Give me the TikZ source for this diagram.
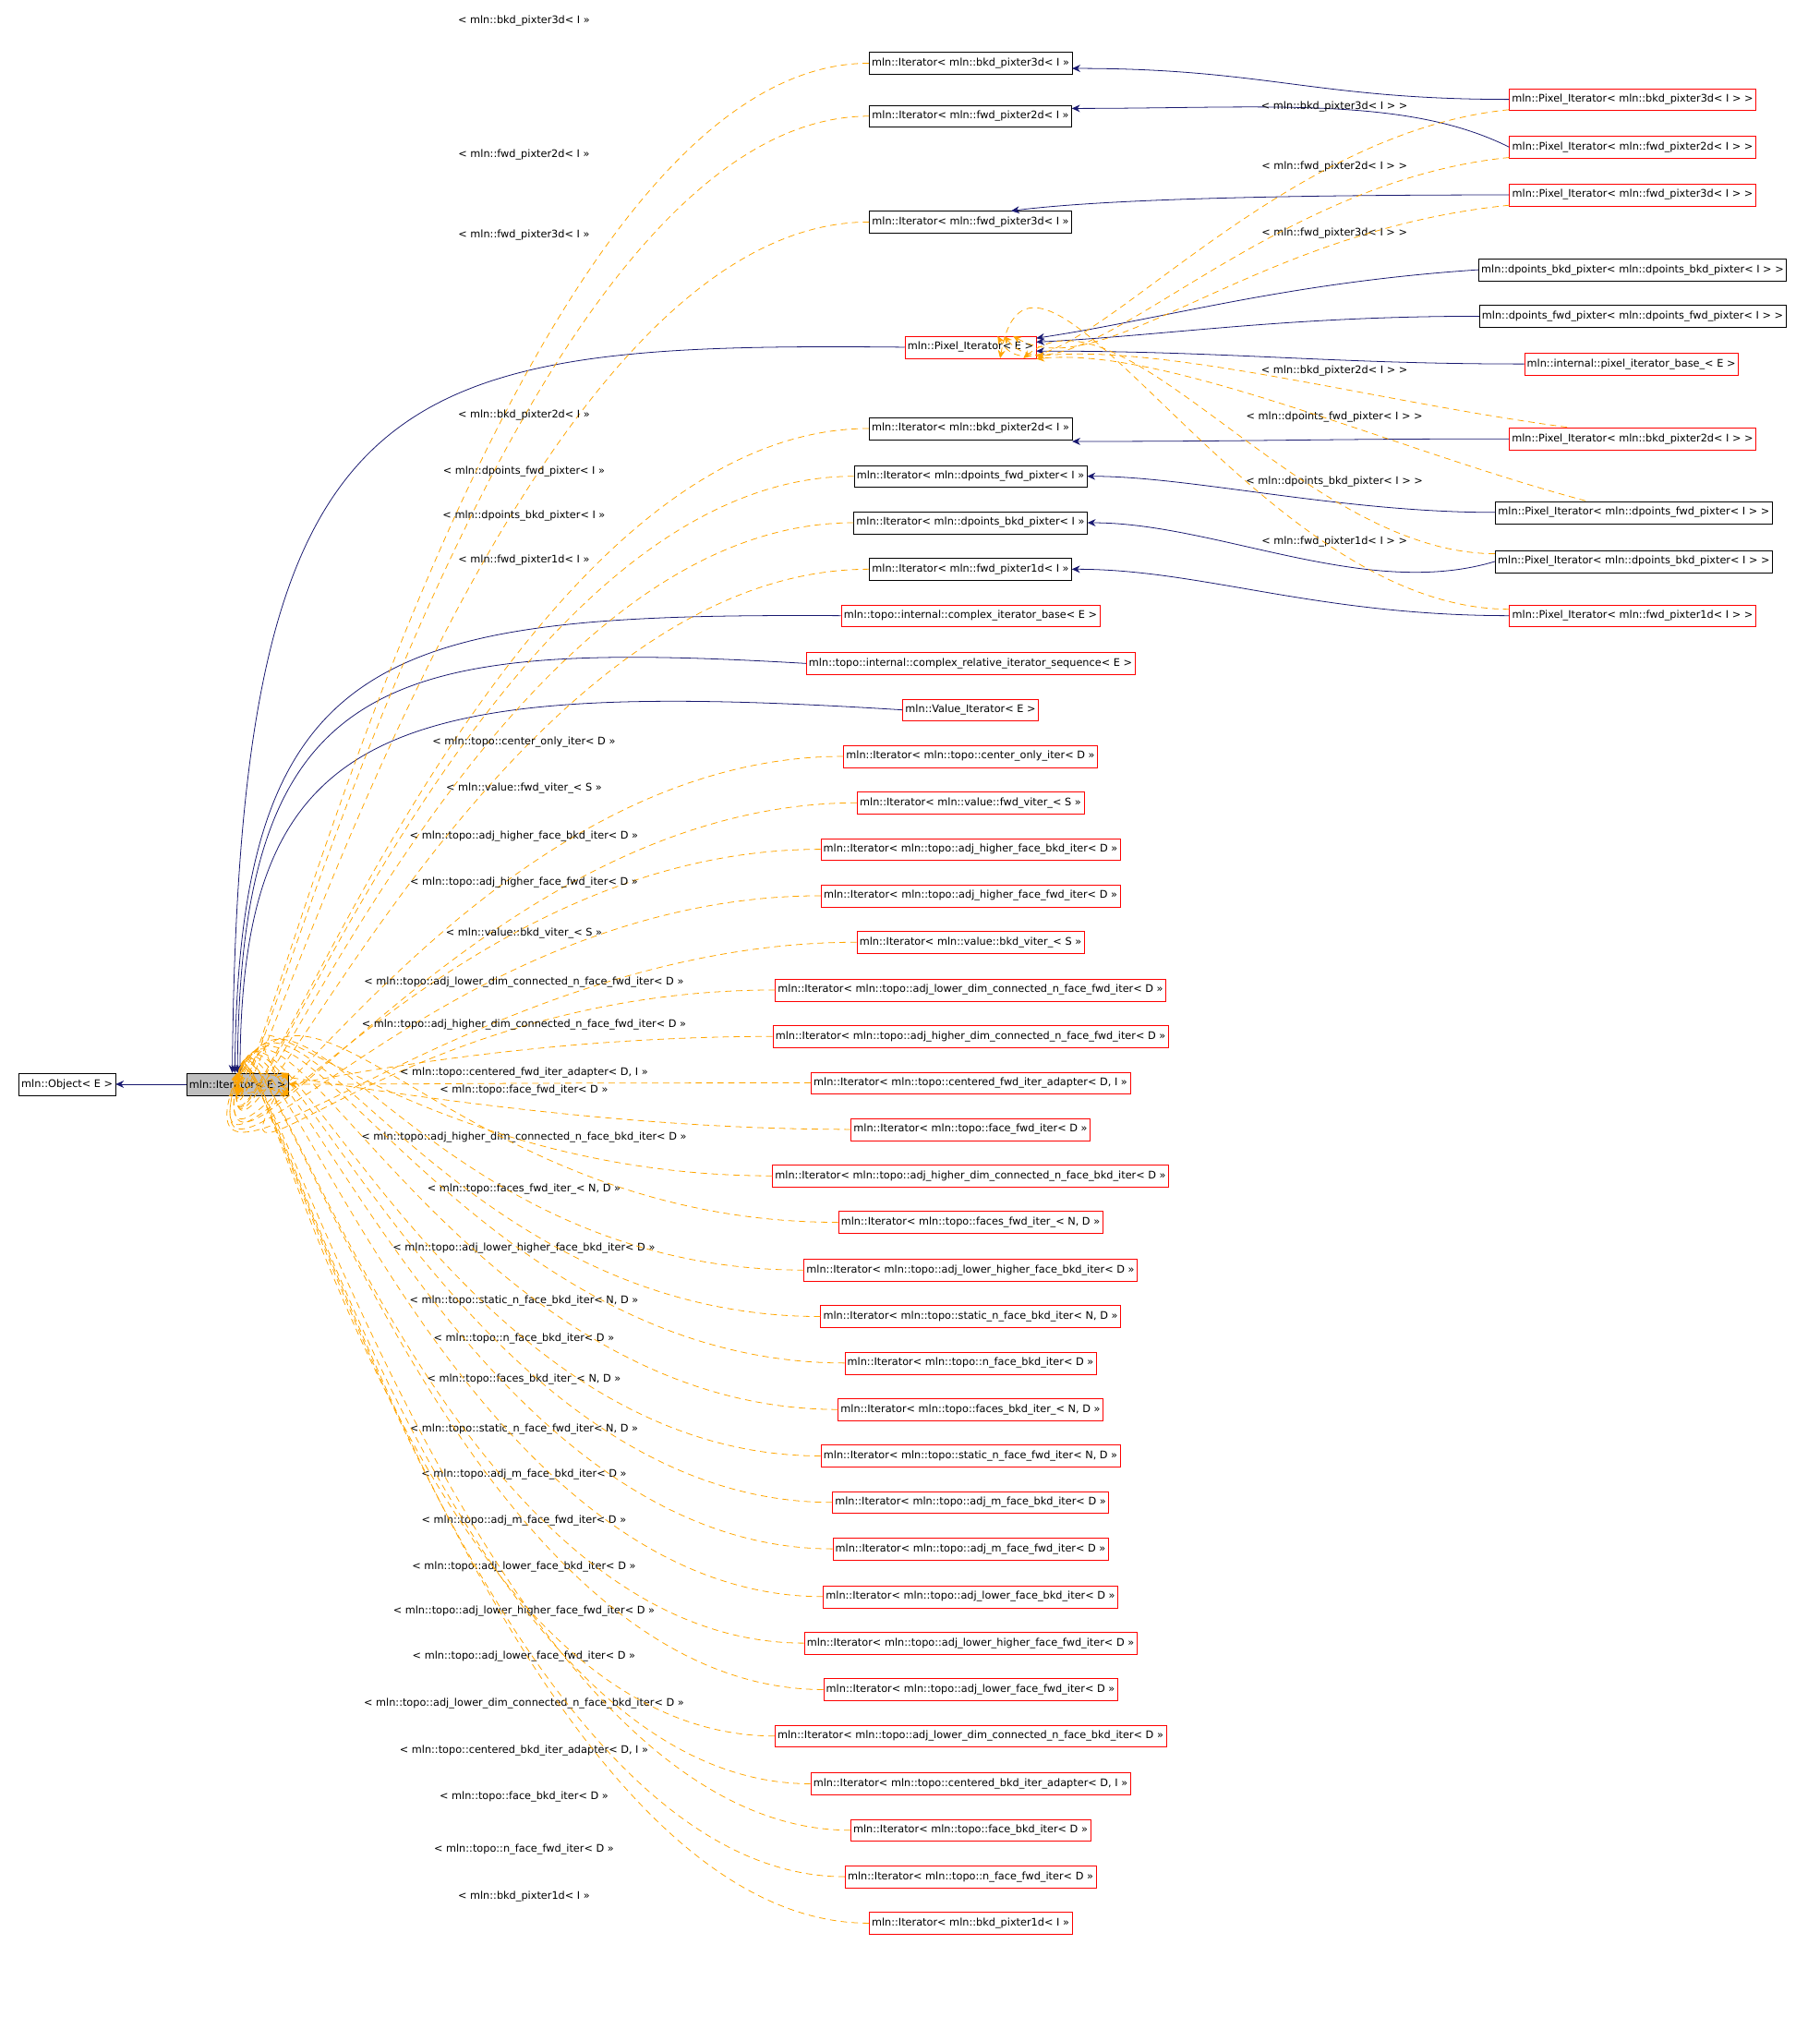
\documentclass[tikz,border=0pt]{standalone}
\usepackage{fontspec}
\setmainfont{DejaVu Sans}
\usetikzlibrary{calc}
\usetikzlibrary{arrows.meta}
\definecolor{navyedge}{RGB}{25,25,112}
\definecolor{instedge}{RGB}{255,165,0}

\begin{document}
\begin{tikzpicture}[x=0.05cm,y=-0.05cm,
klass/.style={rectangle,draw,fill=white,inner xsep=3pt,inner ysep=0pt,minimum height=0.85cm,font=\fontsize{11.5}{13}\selectfont},
doc/.style={klass,draw=black},
undoc/.style={klass,draw=red},
lab/.style={inner sep=0pt,font=\fontsize{11.5}{13}\selectfont},
inherit/.style={navyedge,thick,-{Stealth[length=9pt,width=8pt]}},
inst/.style={instedge,thick,dash pattern=on 7pt off 5pt,-{Stealth[length=9pt,width=8pt]}}]

\useasboundingbox (0,0) rectangle (1410,1572);

\node[doc](obj) at (52,840){mln::Object< E >};
\node[klass,draw=black,fill=black!25](it) at (184,840){mln::Iterator< E >};
\draw[inherit] (it)--(obj);

\node[undoc](pixE) at (752,269){mln::Pixel\_Iterator< E >};
\node[undoc](cib) at (752,477){mln::topo::internal::complex\_iterator\_base< E >};
\node[undoc](cris) at (752,514){mln::topo::internal::complex\_relative\_iterator\_sequence< E >};
\node[undoc](valit) at (752,550){mln::Value\_Iterator< E >};

\draw[inherit] (pixE.west) .. controls (300,265) and (185,290) .. ($(it.north)+(-4,0)$);
\draw[inherit] (cib.west) .. controls (300,475) and (185,500) .. ($(it.north)+(-2,0)$);
\draw[inherit] (cris.west) .. controls (300,495) and (186,520) .. (it.north);
\draw[inherit] (valit.west) .. controls (300,525) and (187,560) .. ($(it.north)+(2,0)$);

% instances of mln::Iterator
\foreach \n/\y/\s/\txt/\ly/\anc/\ang [count=\k] in {
ibkd3/49/doc/{mln::bkd\_pixter3d< I >}/16/north/95,
ifwd2/90/doc/{mln::fwd\_pixter2d< I >}/120/north/95,
ifwd3/172/doc/{mln::fwd\_pixter3d< I >}/182/north/95,
ibkd2/332/doc/{mln::bkd\_pixter2d< I >}/322/north/95,
idfwd/369/doc/{mln::dpoints\_fwd\_pixter< I >}/365/north/95,
idbkd/405/doc/{mln::dpoints\_bkd\_pixter< I >}/400/north/95,
ifwd1/441/doc/{mln::fwd\_pixter1d< I >}/434/north/95,
icoi/586/undoc/{mln::topo::center\_only\_iter< D >}/575/north/100,
ivfw/622/undoc/{mln::value::fwd\_viter\_< S >}/611/north/100,
iahfb/658/undoc/{mln::topo::adj\_higher\_face\_bkd\_iter< D >}/648/north/105,
iahff/694/undoc/{mln::topo::adj\_higher\_face\_fwd\_iter< D >}/684/north/105,
ivbk/730/undoc/{mln::value::bkd\_viter\_< S >}/723/north/110,
ildcf/767/undoc/{mln::topo::adj\_lower\_dim\_connected\_n\_face\_fwd\_iter< D >}/761/north east/120,
ihdcf/803/undoc/{mln::topo::adj\_higher\_dim\_connected\_n\_face\_fwd\_iter< D >}/794/north east/160,
icfa/839/undoc/{mln::topo::centered\_fwd\_iter\_adapter< D, I >}/831/east/0,
iffi/875/undoc/{mln::topo::face\_fwd\_iter< D >}/845/south east/-160,
ihdcb/911/undoc/{mln::topo::adj\_higher\_dim\_connected\_n\_face\_bkd\_iter< D >}/881/south east/-120,
ifsf/947/undoc/{mln::topo::faces\_fwd\_iter\_< N, D >}/921/south/-70,
ilhfb/984/undoc/{mln::topo::adj\_lower\_higher\_face\_bkd\_iter< D >}/967/south/-75,
isnb/1020/undoc/{mln::topo::static\_n\_face\_bkd\_iter< N, D >}/1008/south/-78,
infb/1056/undoc/{mln::topo::n\_face\_bkd\_iter< D >}/1037/south/-80,
ifsb/1092/undoc/{mln::topo::faces\_bkd\_iter\_< N, D >}/1069/south/-82,
isnf/1128/undoc/{mln::topo::static\_n\_face\_fwd\_iter< N, D >}/1107/south/-84,
iamb/1164/undoc/{mln::topo::adj\_m\_face\_bkd\_iter< D >}/1142/south/-85,
iamf/1200/undoc/{mln::topo::adj\_m\_face\_fwd\_iter< D >}/1178/south/-86,
ilfb/1237/undoc/{mln::topo::adj\_lower\_face\_bkd\_iter< D >}/1214/south/-87,
ilhff/1273/undoc/{mln::topo::adj\_lower\_higher\_face\_fwd\_iter< D >}/1248/south/-88,
ilff/1309/undoc/{mln::topo::adj\_lower\_face\_fwd\_iter< D >}/1283/south/-88,
ildcb/1345/undoc/{mln::topo::adj\_lower\_dim\_connected\_n\_face\_bkd\_iter< D >}/1320/south/-89,
icba/1382/undoc/{mln::topo::centered\_bkd\_iter\_adapter< D, I >}/1356/south/-89,
ifbi/1418/undoc/{mln::topo::face\_bkd\_iter< D >}/1392/south/-90,
inff/1454/undoc/{mln::topo::n\_face\_fwd\_iter< D >}/1433/south/-90,
ibkd1/1490/undoc/{mln::bkd\_pixter1d< I >}/1469/south/-90}
{
\node[\s](\n) at (752,\y){mln::Iterator< \txt >};
\node[lab](\n-lab) at (406,\ly){< \txt >};
\draw[inst] (\n.west) .. controls +(-300,0) and +(\ang:150) .. (it.\anc);
}

% right column
\node[undoc](pbkd3) at (1265,77){mln::Pixel\_Iterator< mln::bkd\_pixter3d< I > >};
\node[undoc](pfwd2) at (1265,114){mln::Pixel\_Iterator< mln::fwd\_pixter2d< I > >};
\node[undoc](pfwd3) at (1265,151){mln::Pixel\_Iterator< mln::fwd\_pixter3d< I > >};
\node[doc](dbkd) at (1265,209){mln::dpoints\_bkd\_pixter< mln::dpoints\_bkd\_pixter< I > >};
\node[doc](dfwd) at (1265,245){mln::dpoints\_fwd\_pixter< mln::dpoints\_fwd\_pixter< I > >};
\node[undoc](pib) at (1264,282){mln::internal::pixel\_iterator\_base\_< E >};
\node[undoc](pbkd2) at (1265,340){mln::Pixel\_Iterator< mln::bkd\_pixter2d< I > >};
\node[doc](pdfwd) at (1266,397){mln::Pixel\_Iterator< mln::dpoints\_fwd\_pixter< I > >};
\node[doc](pdbkd) at (1266,435){mln::Pixel\_Iterator< mln::dpoints\_bkd\_pixter< I > >};
\node[undoc](pfwd1) at (1265,477){mln::Pixel\_Iterator< mln::fwd\_pixter1d< I > >};

\draw[inherit] (pbkd3.west) .. controls +(-150,0) and +(150,0) .. ($(ibkd3.east)+(0,4)$);
\draw[inherit] (pfwd2.west) .. controls +(-80,-40) and +(150,0) .. ($(ifwd2.east)+(0,-6)$);
\draw[inherit] (pfwd3.west) .. controls +(-150,0) and +(80,-10) .. ($(ifwd3.north east)+(-47,0)$);
\draw[inherit] (dbkd.west) .. controls +(-150,10) and +(100,-15) .. ($(pixE.east)+(0,-7)$);
\draw[inherit] (dfwd.west) .. controls +(-150,0) and +(100,-5) .. ($(pixE.east)+(0,-4)$);
\draw[inherit] (pib.west) .. controls +(-150,0) and +(150,0) .. ($(pixE.east)+(0,3)$);
\draw[inherit] (pbkd2.west) .. controls +(-150,0) and +(150,0) .. ($(ibkd2.east)+(0,10)$);
\draw[inherit] (pdfwd.west) .. controls +(-120,0) and +(80,0) .. (idfwd.east);
\draw[inherit] (pdbkd.west) .. controls +(-100,30) and +(100,0) .. (idbkd.east);
\draw[inherit] (pfwd1.west) .. controls +(-150,0) and +(100,0) .. (ifwd1.east);

% instances of mln::Pixel_Iterator
\node[lab](lpbkd3) at (1034,83){< mln::bkd\_pixter3d< I > >};
\node[lab](lpfwd2) at (1034,129){< mln::fwd\_pixter2d< I > >};
\node[lab](lpfwd3) at (1034,181){< mln::fwd\_pixter3d< I > >};
\node[lab](lpbkd2) at (1034,287){< mln::bkd\_pixter2d< I > >};
\node[lab](lpdfwd) at (1034,323){< mln::dpoints\_fwd\_pixter< I > >};
\node[lab](lpdbkd) at (1034,373){< mln::dpoints\_bkd\_pixter< I > >};
\node[lab](lpfwd1) at (1034,420){< mln::fwd\_pixter1d< I > >};

\draw[inst] ($(pbkd3.west)+(0,8)$) .. controls +(-200,20) and +(60:80) .. ($(pixE.north east)+(-30,0)$);
\draw[inst] ($(pfwd2.west)+(0,8)$) .. controls +(-200,20) and +(50:80) .. ($(pixE.north east)+(-25,0)$);
\draw[inst] ($(pfwd3.west)+(0,8)$) .. controls +(-200,20) and +(30:80) .. ($(pixE.north east)+(-18,0)$);
\draw[inst] ($(pbkd2.west)+(45,-9)$) .. controls +(-150,-20) and +(100,-10) .. ($(pixE.east)+(0,7)$);
\draw[inst] ($(pdfwd.west)+(70,-9)$) .. controls +(-150,-40) and +(100,-10) .. ($(pixE.east)+(0,9)$);
\draw[inst] ($(pdbkd.west)+(0,-6)$) .. controls +(-150,0) and +(-40:100) .. ($(pixE.south east)+(-10,0)$);
\draw[inst] ($(pfwd1.west)+(0,-5)$) .. controls +(-200,0) and +(-80:150) .. ($(pixE.south east)+(-28,0)$);

\end{tikzpicture}
\end{document}
